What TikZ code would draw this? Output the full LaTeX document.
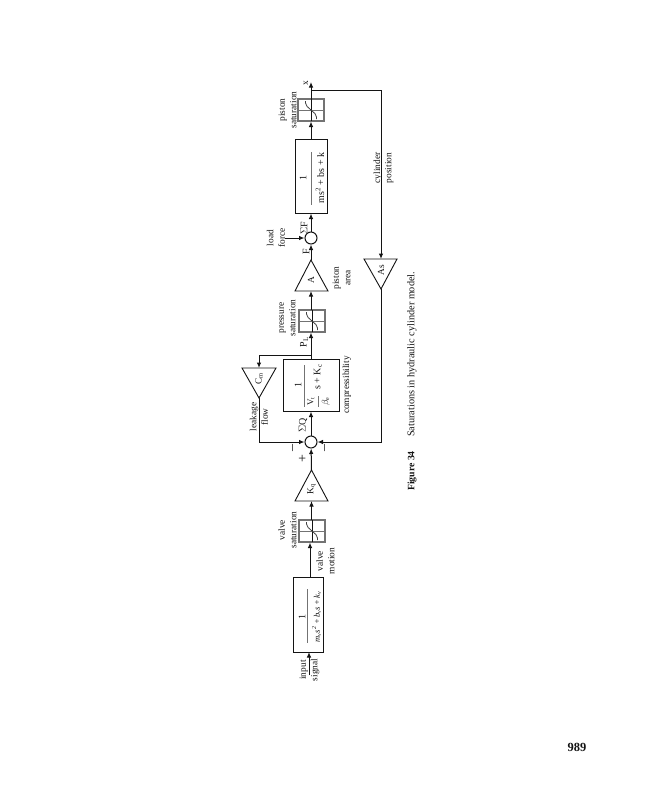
\documentclass[tikz,border=0pt]{standalone}
\usepackage{fontspec}
\setmainfont{Liberation Serif}
\setmathrm{Liberation Serif}
\usetikzlibrary{arrows.meta}
\definecolor{ink}{gray}{0.08}
\tikzset{
  x=1bp,y=-1bp,
  lbl/.style={rotate=90,align=center,inner sep=0pt,font=\fontsize{9.4}{11.5}\selectfont,text=ink},
  fractxt/.style={rotate=90,inner sep=0pt,font=\fontsize{10}{11}\selectfont,text=ink},
  block/.style={draw=ink,line width=1bp,inner sep=0pt,fill=white,rotate=90},
  fracrule/.style={draw=black!55,line width=0.8bp},
  satbox/.style={draw=black!55,line width=1.2bp,inner sep=0pt,minimum width=22bp,minimum height=26bp,rotate=90},
  sumnode/.style={draw=ink,line width=1bp,circle,inner sep=0pt,minimum size=12bp,fill=white},
  tri/.style={draw=ink,line width=0.9bp,line join=miter},
  wire/.style={draw=ink,line width=1bp},
  arrow/.style={wire,-{Latex[length=5.5bp,width=4.5bp]}},
}
\newcommand{\satcurve}[1]{%
  \draw[black!55,line width=0.7bp] ([xshift=-13bp]#1.center) -- ([xshift=13bp]#1.center);
  \draw[ink,line width=0.7bp] ([yshift=-11bp]#1.center) -- ([yshift=11bp]#1.center);
  \draw[black!75,line width=0.8bp,rounded corners=2bp] ([xshift=5.5bp,yshift=-9bp]#1.center)
     -- ([xshift=5.5bp,yshift=-5bp]#1.center) -- ([xshift=-5.5bp,yshift=5bp]#1.center) -- ([xshift=-5.5bp,yshift=9bp]#1.center);
}
\begin{document}
\begin{tikzpicture}
\useasboundingbox (0,0) rectangle (647,800);
\fill[white] (0,0) rectangle (647,800);

% blocks
\node[block,minimum width=75bp,minimum height=30bp] (vb) at (308,614.5) {};
\node[fractxt] (vbn) at (302,617) {1};
\draw[fracrule] (307,589) -- (307,643);
\node[fractxt,font=\fontsize{8.6}{10}\selectfont] (vbd) at (316.5,617) {\itshape m\textsubscript{v}s\textsuperscript{2}\,+\,b\textsubscript{v}s\,+\,k\textsubscript{v}};
\node[satbox] (vs) at (312,531) {};
\node[block,minimum width=52bp,minimum height=56bp] (cb) at (311,385) {};
\node[fractxt] (cbn) at (298,385) {1};
\draw[fracrule] (304,365) -- (304,407);
\node[fractxt,font=\fontsize{9}{10}\selectfont] (cbv) at (311,401.5) {V\textsubscript{t}};
\draw[fracrule,line width=0.5bp] (318,396) -- (318,407);
\node[fractxt,font=\fontsize{9}{10}\selectfont] (cbb) at (326,401.5) {$\beta$\textsubscript{e}};
\node[fractxt] (cbs) at (318,377) {s + K\textsubscript{c}};
\node[satbox] (ps) at (312,321) {};
\node[block,minimum width=74bp,minimum height=32bp] (mb) at (311,176) {};
\node[fractxt] (mbn) at (303,178) {1};
\draw[fracrule] (311,152) -- (311,205);
\node[fractxt] (mbd) at (320,178) {ms\textsuperscript{2} + bs + k};
\node[satbox] (ss) at (311,110) {};
\satcurve{vs}\satcurve{ps}\satcurve{ss}

% summing points
\node[sumnode] (s1) at (311,442) {};
\node[sumnode] (s2) at (311,238) {};

% triangles (base corners and apex)
\coordinate (kqa) at (311.5,470); \coordinate (kqb) at (311.5,501);
\draw[tri] (295,501) -- (328,501) -- (kqa) -- cycle;
\node[lbl] (kq) at (311.5,489) {K\textsubscript{q}};
\coordinate (aa) at (311,260); \coordinate (ab) at (311,291);
\draw[tri] (295,291) -- (328,291) -- (aa) -- cycle;
\node[lbl] (at) at (311,280) {A};
\coordinate (csa) at (381,289); \coordinate (csb) at (381,259);
\draw[tri] (364,259) -- (397,259) -- (csa) -- cycle;
\node[lbl] (as) at (381,270) {As};
\coordinate (cma) at (259,398); \coordinate (cmb) at (259,368);
\draw[tri] (242,368) -- (276,368) -- (cma) -- cycle;
\node[lbl] (cm) at (259,379) {C\textsubscript{m}};

% free ends and bends
\coordinate (inp) at (309,675);
\coordinate (out) at (311,82);
\coordinate (lf) at (285,238);
\coordinate (tapx) at (311,90);
\coordinate (fbtop) at (381,90);
\coordinate (fbbot) at (381,442);
\coordinate (tapp) at (311,355);
\coordinate (lktop) at (259,355);
\coordinate (lkbot) at (259,442);

% connectors
\draw[arrow] (inp) -- (309,652);
\draw[arrow] (310,577) -- (310,542.5);
\draw[arrow] (311.5,520) -- (kqb);
\draw[arrow] (kqa) -- (s1);
\draw[arrow] (s1) -- (311,411.5);
\draw[arrow] (311,359) -- (311,332.5);
\draw[arrow] (311,310) -- (ab);
\draw[arrow] (aa) -- (s2);
\draw[arrow] (s2) -- (311,213.5);
\draw[arrow] (lf) -- (s2);
\draw[arrow] (311,139) -- (311,121.5);
\draw[arrow] (311,99) -- (out);
\draw[arrow] (tapp) -- (lktop) -- (cmb);
\draw[arrow] (cma) -- (lkbot) -- (s1);
\draw[arrow] (tapx) -- (fbtop) -- (csb);
\draw[arrow] (csa) -- (fbbot) -- (s1);

% labels
\node[lbl] (l1) at (309.5,670) {input\\signal};
\node[lbl] (l2) at (325.5,561) {valve\\motion};
\node[lbl] (l3) at (287.5,530) {valve\\saturation};
\node[lbl] (l4) at (259,417) {leakage\\flow};
\node[lbl,font=\fontsize{10}{12}\selectfont] (l5) at (303,425) {$\Sigma$Q};
\node[lbl] (l6) at (347,385) {compressibility};
\node[lbl,font=\fontsize{10}{12}\selectfont] (l7) at (304,342) {P\textsubscript{L}};
\node[lbl] (l8) at (287.5,318) {pressure\\saturation};
\node[lbl] (l9) at (341.5,278) {piston\\area};
\node[lbl] (l10) at (276,238) {load\\force};
\node[lbl,font=\fontsize{10}{12}\selectfont] (l11) at (306,252) {F};
\node[lbl,font=\fontsize{10}{12}\selectfont] (l12) at (304,228) {$\Sigma$F};
\node[lbl] (l13) at (287.5,110) {piston\\saturation};
\node[lbl] (l14) at (383.5,168) {cylinder\\position};
\node[lbl] (l15) at (306,83) {x};
\node[lbl,font=\fontsize{14}{14}\selectfont] (l16) at (303,459) {+};
\node[lbl,font=\fontsize{14}{14}\selectfont] (l17) at (294,448) {–};
\node[lbl,font=\fontsize{14}{14}\selectfont] (l18) at (326,448) {–};

% caption and folio
\node[lbl,font=\fontsize{9.8}{11}\bfseries\selectfont,anchor=west] (f34) at (412,491) {Figure 34};
\node[lbl,font=\fontsize{10.3}{11}\selectfont,anchor=west] (cap) at (412,437) {Saturations in hydraulic cylinder model.};
\node[inner sep=0pt,font=\fontsize{12.5}{13}\bfseries\selectfont,text=ink] (pg) at (577,747) {989};
\end{tikzpicture}
\end{document}
